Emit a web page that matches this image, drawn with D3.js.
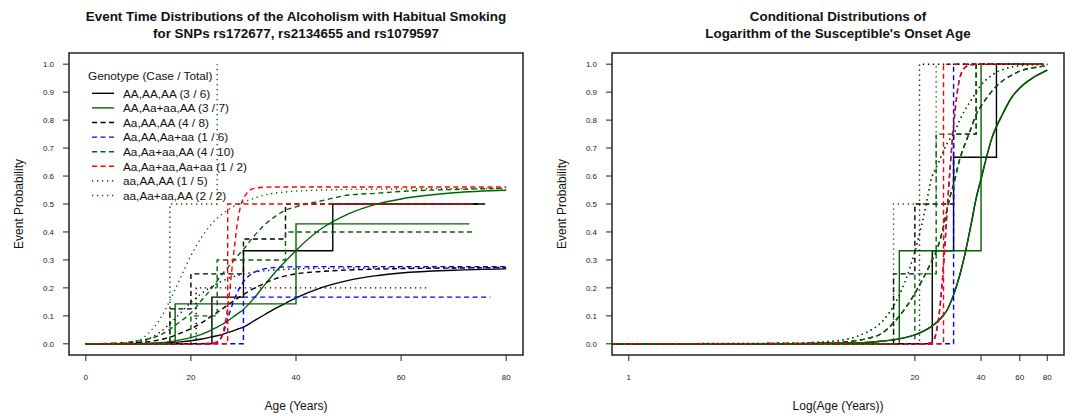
<!DOCTYPE html>
<html>
<head>
<meta charset="utf-8">
<script src="https://cdn.jsdelivr.net/npm/d3@7"></script>
<style>
  body { margin: 0; background: #fff; }
  svg { font-family: "Liberation Sans", Arial, sans-serif; }
</style>
</head>
<body>
<div id="chart"></div>
<script>
// genotype groups, legend order
var genotypes = ["AA,AA,AA", "AA,Aa+aa,AA", "Aa,AA,AA", "Aa,AA,Aa+aa",
                 "Aa,Aa+aa,AA", "Aa,Aa+aa,Aa+aa", "aa,AA,AA", "aa,Aa+aa,AA"];
var cases  = [3, 3, 4, 1, 4, 1, 1, 2];
var totals = [6, 7, 8, 6, 10, 2, 5, 2];

// empirical step functions: event ages, last follow-up age
var eventAges = [[24, 30, 47], [17, 40], [16, 20, 30, 38], [30],
                 [20, 25, 38], [27], [21], [16, 25]];
var lastAge = [76, 73, 75, 77, 73.5, 73, 65, 25];
// event probability after each event (left panel)
var stepProb = [[0.167, 0.333, 0.5], [0.143, 0.429], [0.125, 0.25, 0.375, 0.5], [0.167],
                [0.1, 0.3, 0.4], [0.5], [0.2], [0.5, 1.0]];
// conditional on being a case (right panel)
var stepCond = [[0.333, 0.667, 1], [0.333, 1], [0.25, 0.5, 0.75, 1], [1],
                [0.25, 0.75, 1], [1], [1], [0.5, 1]];

// fitted curves, left panel (age in years)
var curveAges = [0, 5, 10, 12, 14, 16, 18, 20, 22, 24, 25, 26, 27, 28, 29, 30,
                 32, 34, 36, 38, 40, 45, 50, 55, 60, 70, 80];
var fitAAAAAA = [0, 0, 0.0005, 0.001, 0.002, 0.004, 0.007, 0.011, 0.017, 0.025, 0.029, 0.034, 0.04, 0.046,
                 0.053, 0.06, 0.082, 0.104, 0.126, 0.145, 0.164, 0.202, 0.227, 0.243, 0.253, 0.263, 0.268];
var fitAAAaAA = [0, 0, 0.001, 0.002, 0.004, 0.008, 0.014, 0.022, 0.034, 0.05, 0.06, 0.07, 0.082, 0.095,
                 0.109, 0.123, 0.163, 0.21, 0.255, 0.295, 0.334, 0.414, 0.465, 0.498, 0.518, 0.54, 0.549];
var fitAaAAAA = [0, 0.0005, 0.004, 0.008, 0.014, 0.024, 0.038, 0.054, 0.075, 0.1, 0.112, 0.125, 0.139, 0.152,
                 0.164, 0.176, 0.198, 0.216, 0.232, 0.243, 0.25, 0.259, 0.264, 0.267, 0.269, 0.271, 0.273];
var fitAaAAAa = [0, 0, 0, 0, 0, 0, 0, 0, 0.0005, 0.002, 0.005, 0.03, 0.09, 0.146,
                 0.19, 0.222, 0.255, 0.268, 0.273, 0.275, 0.275, 0.276, 0.276, 0.276, 0.276, 0.276, 0.276];
var fitAaAaAA = [0, 0.002, 0.01, 0.018, 0.03, 0.052, 0.08, 0.11, 0.155, 0.2, 0.225, 0.25, 0.272, 0.295,
                 0.317, 0.338, 0.385, 0.425, 0.455, 0.478, 0.49, 0.512, 0.532, 0.538, 0.545, 0.552, 0.556];
var fitAaAaAa = [0, 0, 0, 0, 0, 0, 0, 0, 0.001, 0.003, 0.008, 0.035, 0.13, 0.3,
                 0.45, 0.52, 0.556, 0.56, 0.561, 0.561, 0.561, 0.561, 0.561, 0.561, 0.561, 0.561, 0.561];
var fitaaAAAA = [0, 0.001, 0.006, 0.018, 0.04, 0.072, 0.11, 0.148, 0.18, 0.205, 0.216, 0.225, 0.233, 0.24,
                 0.245, 0.249, 0.256, 0.261, 0.264, 0.266, 0.268, 0.27, 0.271, 0.271, 0.272, 0.272, 0.272];
var fitaaAaAA = [0, 0.001, 0.012, 0.04, 0.085, 0.155, 0.235, 0.315, 0.38, 0.43, 0.449, 0.465, 0.478, 0.49,
                 0.499, 0.507, 0.52, 0.532, 0.539, 0.543, 0.546, 0.55, 0.552, 0.553, 0.554, 0.555, 0.555];

// conditional fitted curves, right panel
var condAges = [0.5, 5, 8, 10, 12, 14, 16, 18, 20, 22, 24, 25, 26, 27, 28, 29, 30,
                32, 34, 36, 38, 40, 45, 50, 55, 60, 70, 80];
var condA = [0, 0, 0.002, 0.003, 0.005, 0.009, 0.014, 0.022, 0.032, 0.046, 0.064, 0.075, 0.088, 0.103,
             0.12, 0.145, 0.175, 0.245, 0.33, 0.425, 0.52, 0.59, 0.74, 0.82, 0.88, 0.915, 0.955, 0.979];
var condB = [0, 0.001, 0.003, 0.008, 0.018, 0.035, 0.075, 0.125, 0.18, 0.24, 0.3, 0.33, 0.37, 0.42,
             0.48, 0.53, 0.57, 0.66, 0.72, 0.77, 0.82, 0.85, 0.905, 0.94, 0.96, 0.975, 0.988, 0.994];
var condC = [0, 0.002, 0.008, 0.018, 0.04, 0.075, 0.135, 0.22, 0.33, 0.46, 0.6, 0.63, 0.66, 0.69,
             0.715, 0.735, 0.75, 0.8, 0.84, 0.87, 0.9, 0.925, 0.962, 0.98, 0.99, 0.994, 0.998, 0.999];
var condD = [0, 0, 0, 0, 0, 0, 0, 0, 0, 0, 0.005, 0.04, 0.13, 0.28,
             0.47, 0.64, 0.78, 0.95, 0.99, 0.998, 1, 1, 1, 1, 1, 1, 1, 1];

var fitProb = [fitAAAAAA, fitAAAaAA, fitAaAAAA, fitAaAAAa, fitAaAaAA, fitAaAaAa, fitaaAAAA, fitaaAaAA];
var fitCond = [condA, condA, condB, condD, condB, condD, condC, condC];

var xTicksAge = [0, 20, 40, 60, 80];
var xTicksLog = [1, 20, 40, 60, 80];
var yTicks = [0, 0.1, 0.2, 0.3, 0.4, 0.5, 0.6, 0.7, 0.8, 0.9, 1.0];

// styles
var colors = ["#000000", "#006400", "#000000", "#0000ff", "#006400", "#ff0000", "#000000", "#006400"];
var dashes = [null, null, "5,3.5", "5,3.5", "5,3.5", "5,3.5", "1.3,3.7", "1.3,3.7"];

const width = 1072, height = 416;
var svg = d3.select("#chart").append("svg")
  .attr("width", width).attr("height", height)
  .attr("viewBox", [0, 0, width, height]);

var plotTop = 53, plotBottom = 355;
var y = d3.scaleLinear().domain([-0.04, 1.04]).range([plotBottom, plotTop]);

var L = Math.log(80);
var panels = [
  { left: 69, right: 523,
    x: d3.scaleLinear().domain([-3.2, 83.2]).range([69, 523]),
    ticks: xTicksAge, steps: stepProb, fits: fitProb, fitAges: curveAges, start: 0,
    title: ["Event Time Distributions of the Alcoholism with Habitual Smoking",
            "for SNPs rs172677, rs2134655 and rs1079597"],
    xlab: "Age (Years)" },
  { left: 612, right: 1064,
    x: d3.scaleLog().domain([Math.exp(-0.04 * L), Math.exp(1.04 * L)]).range([612, 1064]),
    ticks: xTicksLog, steps: stepCond, fits: fitCond, fitAges: condAges, start: 0.5,
    title: ["Conditional Distributions of", "Logarithm of the Susceptible's Onset Age"],
    xlab: "Log(Age (Years))" }
];

panels.forEach(function(p, pi) {
  var g = svg.append("g");
  var cx = (p.left + p.right) / 2;

  g.append("clipPath").attr("id", "clip" + pi)
    .append("rect").attr("x", p.left).attr("y", plotTop)
    .attr("width", p.right - p.left).attr("height", plotBottom - plotTop);

  var plot = g.append("g").attr("clip-path", "url(#clip" + pi + ")");

  var stepLine = d3.line().x(d => p.x(d[0])).y(d => y(d[1])).curve(d3.curveStepAfter);
  var fitLine = d3.line().x(d => p.x(d[0])).y(d => y(d[1])).curve(d3.curveMonotoneX);

  genotypes.forEach(function(name, i) {
    var pts = [[p.start, 0]];
    eventAges[i].forEach(function(a, k) { pts.push([a, p.steps[i][k]]); });
    pts.push([lastAge[i], p.steps[i][p.steps[i].length - 1]]);
    plot.append("path").attr("d", stepLine(pts))
      .attr("fill", "none").attr("stroke", colors[i]).attr("stroke-width", 1.4)
      .attr("stroke-dasharray", dashes[i]);

    var fpts = p.fitAges.map(function(a, k) { return [a, p.fits[i][k]]; });
    plot.append("path").attr("d", fitLine(fpts))
      .attr("fill", "none").attr("stroke", colors[i]).attr("stroke-width", 1.4)
      .attr("stroke-dasharray", dashes[i]);
  });

  // box
  g.append("rect").attr("x", p.left).attr("y", plotTop)
    .attr("width", p.right - p.left).attr("height", plotBottom - plotTop)
    .attr("fill", "none").attr("stroke", "#222").attr("stroke-width", 1.5);

  // x ticks
  p.ticks.forEach(function(t) {
    g.append("line").attr("x1", p.x(t)).attr("x2", p.x(t)).attr("y1", plotBottom).attr("y2", plotBottom + 6)
      .attr("stroke", "#222").attr("stroke-width", 1);
    g.append("text").attr("x", p.x(t)).attr("y", plotBottom + 25)
      .attr("text-anchor", "middle").attr("font-size", 8).attr("fill", "#222").text(t);
  });
  // y ticks
  yTicks.forEach(function(t) {
    g.append("line").attr("x1", p.left - 6).attr("x2", p.left).attr("y1", y(t)).attr("y2", y(t))
      .attr("stroke", "#222").attr("stroke-width", 1);
    g.append("text").attr("x", p.left - 15).attr("y", y(t)).attr("dy", "0.35em")
      .attr("text-anchor", "end").attr("font-size", 8).attr("fill", "#222").text(d3.format(".1f")(t));
  });

  // titles
  p.title.forEach(function(s, k) {
    g.append("text").attr("x", cx).attr("y", 21 + k * 17)
      .attr("text-anchor", "middle").attr("font-size", 13.4).attr("font-weight", "bold")
      .attr("fill", "#111").text(s);
  });
  g.append("text").attr("x", cx).attr("y", 410)
    .attr("text-anchor", "middle").attr("font-size", 12).attr("fill", "#111").text(p.xlab);
  g.append("text").attr("transform", "translate(" + (p.left - 46) + "," + ((plotTop + plotBottom) / 2) + ") rotate(-90)")
    .attr("text-anchor", "middle").attr("font-size", 12).attr("fill", "#111").text("Event Probability");
});

// legend in left panel
var legend = svg.append("g");
legend.append("text").attr("x", 88).attr("y", 80).attr("font-size", 11.8).attr("fill", "#111")
  .text("Genotype (Case / Total)");
genotypes.forEach(function(name, i) {
  var ly = 93.3 + i * 14.6;
  legend.append("line").attr("x1", 92).attr("x2", 114).attr("y1", ly).attr("y2", ly)
    .attr("stroke", colors[i]).attr("stroke-width", 1.4).attr("stroke-dasharray", dashes[i]);
  legend.append("text").attr("x", 123).attr("y", ly).attr("dy", "0.36em")
    .attr("font-size", 11.8).attr("fill", "#111")
    .text(name + " (" + cases[i] + " / " + totals[i] + ")");
});
</script>
</body>
</html>
